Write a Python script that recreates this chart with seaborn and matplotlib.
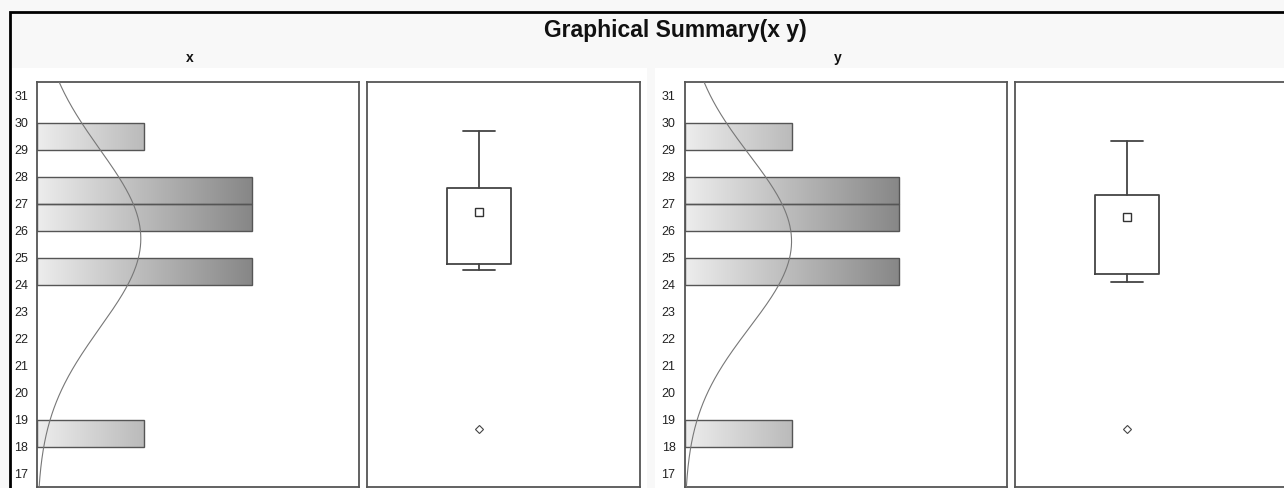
import numpy as np
import pandas as pd
import matplotlib
matplotlib.use("Agg")
import matplotlib.pyplot as plt
from matplotlib.colors import LinearSegmentedColormap
from matplotlib.patches import Rectangle
import seaborn as sns

# ---------------- data ----------------
title = "Graphical Summary(x y)"
series_names = ["x", "y"]
bin_lower = [18, 24, 26, 27, 29]          # lower edges of filled 1-unit bins
counts_x = [1, 2, 2, 2, 1]
counts_y = [1, 2, 2, 2, 1]
n_obs = 8
normal_mean = {"x": 25.7, "y": 25.6}
normal_sd = {"x": 3.3, "y": 3.2}
# box summaries: lower whisker, Q1, centre marker, Q3, upper whisker, outliers
box_x = dict(whislo=24.53, q1=24.76, mean=26.69, q3=27.56, whishi=29.70, fliers=[18.65])
box_y = dict(whislo=24.10, q1=24.39, mean=26.51, q3=27.31, whishi=29.33, fliers=[18.64])
y_ticks = list(range(17, 32))

counts = {"x": counts_x, "y": counts_y}
boxes = {"x": box_x, "y": box_y}

# ---------------- style ----------------
sns.set_style("white")
plt.rcParams["font.family"] = ["Liberation Sans", "DejaVu Sans"]

W, H = 1284, 488
fig = plt.figure(figsize=(W / 100, H / 100), dpi=100)
fig.patch.set_facecolor("#f8f8f8")


def fx(px):
    return px / W


def fy(py):
    return 1 - py / H


# white group backgrounds
for x0, x1 in [(11, 647), (655, 1290)]:
    fig.add_artist(Rectangle((fx(x0), fy(490)), fx(x1 - x0), (490 - 68) / H,
                             transform=fig.transFigure, facecolor="white",
                             edgecolor="none", zorder=-5))
# outer black frame (right/bottom lie outside the crop)
fig.add_artist(Rectangle((fx(10), fy(500)), fx(1300), (500 - 12) / H,
                         transform=fig.transFigure, facecolor="none",
                         edgecolor="black", linewidth=2, zorder=10))

fig.text(fx(675), fy(37), title, ha="center", va="baseline",
         fontsize=16.5, fontweight="bold", color="#111111")

grad_cmap = LinearSegmentedColormap.from_list("g", ["#ededed", "#878787"])
ylo, yhi = 16.5, 31.5

layout = {
    "x": dict(hist_left=37, box_left=367, label_x=190),
    "y": dict(hist_left=684.5, box_left=1015, label_x=838),
}

for name in series_names:
    L = layout[name]
    fig.text(fx(L["label_x"]), fy(62), name, ha="center", va="baseline",
             fontsize=10, fontweight="bold", color="#111111")

    # ---------- histogram ----------
    axh = fig.add_axes([fx(L["hist_left"]), fy(487), fx(322), (487 - 82) / H])
    df = pd.DataFrame({"value": [b + 0.5 for b in bin_lower],
                       "count": counts[name]})
    sns.histplot(data=df, y="value", weights="count", binwidth=1,
                 binrange=(16, 32), ax=axh, stat="count", element="bars",
                 fill=True, facecolor="none", edgecolor="#555555", linewidth=1.0)
    gmax = max(counts[name])
    grad = np.linspace(0, 1, 256).reshape(1, -1)
    for p in list(axh.patches):
        if p.get_width() <= 0:
            p.remove()
            continue
        p.set_facecolor("none")
        p.set_zorder(3)
        y0, hgt = p.get_y(), p.get_height()
        im = axh.imshow(grad, extent=[0, gmax, y0, y0 + hgt], cmap=grad_cmap,
                        aspect="auto", origin="lower", zorder=2,
                        interpolation="bilinear")
        im.set_clip_path(p)

    yy = np.linspace(ylo, yhi, 400)
    mu, sd = normal_mean[name], normal_sd[name]
    pdf = n_obs * 1.0 / (sd * np.sqrt(2 * np.pi)) * np.exp(-0.5 * ((yy - mu) / sd) ** 2)
    axh.plot(pdf, yy, color="#777777", linewidth=0.8, zorder=4)

    axh.set_xlim(0, 3)
    axh.set_ylim(ylo, yhi)
    axh.set_yticks(y_ticks)
    axh.set_yticklabels([str(t) for t in y_ticks])
    axh.set_xticks([])
    axh.set_xlabel("")
    axh.set_ylabel("")
    axh.tick_params(axis="y", length=0, pad=6.5, labelsize=9, labelcolor="#222222")
    for s in axh.spines.values():
        s.set_visible(True)
        s.set_color("#555555")
        s.set_linewidth(1.3)
    axh.set_facecolor("white")

    # ---------- box plot ----------
    axb = fig.add_axes([fx(L["box_left"]), fy(487), fx(273), (487 - 82) / H])
    b = boxes[name]
    stats = [dict(med=b["mean"], q1=b["q1"], q3=b["q3"], whislo=b["whislo"],
                  whishi=b["whishi"], mean=b["mean"], fliers=b["fliers"])]
    lc = "#444444"
    axb.bxp(stats, positions=[0], widths=0.5, showmeans=True,
            boxprops=dict(color=lc, linewidth=1.3),
            whiskerprops=dict(color=lc, linewidth=1.3),
            capprops=dict(color=lc, linewidth=1.3),
            medianprops=dict(linewidth=0, color="none"),
            meanprops=dict(marker="s", markersize=5.5, markerfacecolor="white",
                           markeredgecolor="#333333", markeredgewidth=1.0),
            flierprops=dict(marker="D", markersize=3.8, markerfacecolor="white",
                            markeredgecolor="#444444", markeredgewidth=0.8))
    axb.set_xlim(-111.5 / 128, 161.5 / 128)
    axb.set_ylim(ylo, yhi)
    axb.set_xticks([])
    axb.set_yticks([])
    for s in axb.spines.values():
        s.set_visible(True)
        s.set_color("#555555")
        s.set_linewidth(1.3)
    axb.set_facecolor("white")

fig.savefig("out.png", dpi=100, facecolor=fig.get_facecolor())
